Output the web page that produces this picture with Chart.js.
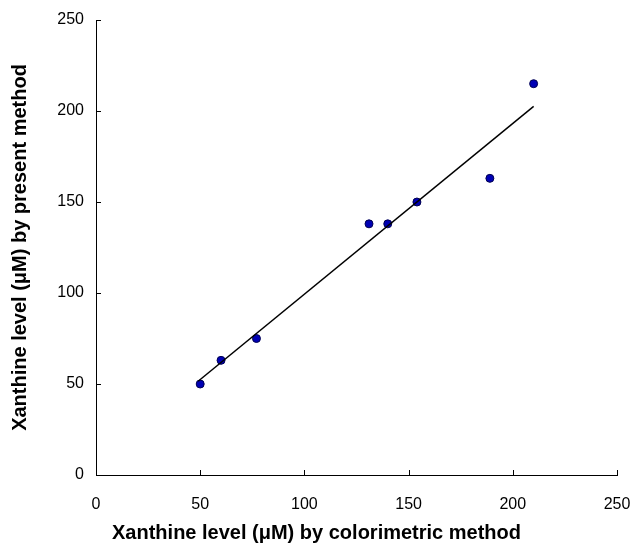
<!DOCTYPE html>
<html>
<head>
<meta charset="utf-8">
<script src="https://cdn.jsdelivr.net/npm/chart.js@4/dist/chart.umd.min.js"></script>
<style>
  body { margin: 0; background: #fff; }
  canvas { display: block; }
</style>
</head>
<body>
<canvas id="xanthineChart" width="635" height="545"></canvas>
<script>
// values
const colorimetric = [50, 60, 77, 131, 140, 154, 189, 210];
const presentMethod = [50, 63, 75, 138, 138, 150, 163, 215];
// fitted line end points, as drawn in the picture
const fitX = [49, 210];
const fitY = [51.5, 202.5];
const axisTicks = [0, 50, 100, 150, 200, 250];

const points = colorimetric.map((x, i) => ({ x: x, y: presentMethod[i] }));
const fitLine = fitX.map((x, i) => ({ x: x, y: fitY[i] }));

// short tick marks that point into the plot area
const insideTicks = {
  id: 'insideTicks',
  afterDraw(chart) {
    const ctx = chart.ctx;
    const xs = chart.scales.x, ys = chart.scales.y;
    ctx.save();
    ctx.strokeStyle = '#000';
    ctx.lineWidth = 1;
    ctx.beginPath();
    axisTicks.forEach(v => {
      const px = Math.round(xs.getPixelForValue(v)) + 0.5;
      ctx.moveTo(px, ys.bottom);
      ctx.lineTo(px, ys.bottom - 5);
      const py = Math.round(ys.getPixelForValue(v)) + 0.5;
      ctx.moveTo(xs.left, py);
      ctx.lineTo(xs.left + 5, py);
    });
    ctx.stroke();
    ctx.restore();
  }
};

const tickFont = { family: 'Liberation Sans', size: 16 };
const titleFont = { family: 'Liberation Sans', size: 20, weight: 'bold' };

new Chart(document.getElementById('xanthineChart').getContext('2d'), {
  type: 'scatter',
  data: {
    datasets: [{
      type: 'line',
      data: fitLine,
      borderColor: '#000',
      borderWidth: 1.5,
      pointRadius: 0,
      fill: false
    }, {
      data: points,
      backgroundColor: '#0000b4',
      borderColor: '#000050',
      borderWidth: 1,
      pointRadius: 4
    }]
  },
  options: {
    responsive: false,
    animation: false,
    layout: { padding: { top: 20, right: 2, left: 0, bottom: 0 } },
    plugins: {
      legend: { display: false },
      tooltip: { enabled: false },
      title: {
        display: true,
        position: 'bottom',
        text: 'Xanthine level (μM) by colorimetric method',
        font: titleFont, color: '#000',
        padding: { top: 0, bottom: 0 }
      }
    },
    scales: {
      x: {
        type: 'linear',
        min: 0, max: 250,
        afterBuildTicks: s => { s.ticks = axisTicks.map(v => ({ value: v })); },
        afterFit: s => { s.height = 46; s.paddingRight = 18; s.paddingLeft = 0; },
        grid: { display: false },
        border: { display: true, color: '#000', width: 1 },
        ticks: { font: tickFont, color: '#000', padding: 12, maxRotation: 0 }
      },
      y: {
        type: 'linear',
        min: 0, max: 250,
        afterBuildTicks: s => { s.ticks = axisTicks.map(v => ({ value: v })); },
        afterFit: s => { s.width = 96; },
        grid: { display: false },
        border: { display: true, color: '#000', width: 1 },
        ticks: { font: tickFont, color: '#000', padding: 4 },
        title: {
          display: true,
          text: 'Xanthine level (μM) by present method',
          font: titleFont, color: '#000',
          padding: { top: 8, bottom: 0 }
        }
      }
    }
  },
  plugins: [insideTicks]
});
</script>
</body>
</html>
